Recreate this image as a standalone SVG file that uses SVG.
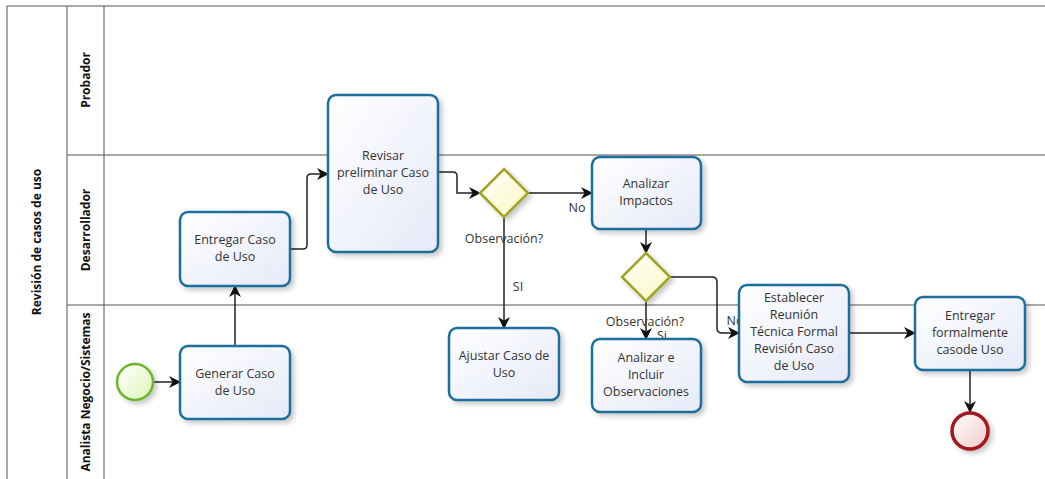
<svg xmlns="http://www.w3.org/2000/svg" width="1045" height="479" viewBox="0 0 1045 479">
<defs>
<linearGradient id="gTask" x1="0" y1="0" x2="1" y2="1"><stop offset="0" stop-color="#ffffff"/><stop offset="1" stop-color="#e6eaf8"/></linearGradient>
<linearGradient id="gGate" x1="0" y1="0" x2="1" y2="1"><stop offset="0" stop-color="#ffffff"/><stop offset="1" stop-color="#f8f8c0"/></linearGradient>
<linearGradient id="gStart" x1="0" y1="0" x2="1" y2="1"><stop offset="0" stop-color="#ffffff"/><stop offset="1" stop-color="#dff5b8"/></linearGradient>
<linearGradient id="gEnd" x1="0" y1="0" x2="1" y2="1"><stop offset="0" stop-color="#ffffff"/><stop offset="1" stop-color="#f2c8cc"/></linearGradient>
<filter id="sh" x="-20%" y="-20%" width="150%" height="150%"><feDropShadow dx="3" dy="3" stdDeviation="2.5" flood-color="#000" flood-opacity="0.22"/></filter>
<marker id="arr" viewBox="0 0 12 12" refX="11" refY="6" markerWidth="12" markerHeight="12" markerUnits="userSpaceOnUse" orient="auto"><path d="M0,0 L12,6 L0,12 L3.5,6 z" fill="#111"/></marker>
</defs>
<style>
.lane{fill:none;stroke:#555;stroke-width:1}
.lbl{font-family:"Open Sans","Noto Sans","DejaVu Sans",sans-serif;font-size:12px;font-weight:bold;fill:#111;text-anchor:middle}
.task rect{fill:url(#gTask);stroke:#1f6e9c;stroke-width:2.5;filter:url(#sh)}
.task text,.t{font-family:"Open Sans","Noto Sans","DejaVu Sans",sans-serif;font-size:12.5px;fill:#333;text-anchor:middle}
.gate polygon{fill:url(#gGate);stroke:#a3a325;stroke-width:2.5;filter:url(#sh)}
.con path{fill:none;stroke:#222;stroke-width:1.5;marker-end:url(#arr)}
</style>
<rect width="1045" height="479" fill="#ffffff"/>
<g id="pool">
<path class="lane" d="M7,479 V6 H1045"/>
<path class="lane" d="M67,6 V479"/>
<path class="lane" d="M104,6 V479"/>
<path class="lane" d="M67,155 H1045"/>
<path class="lane" d="M67,305 H1045"/>
<text class="lbl" transform="translate(41,242) rotate(-90)">Revisión de casos de uso</text>
<text class="lbl" transform="translate(90,80) rotate(-90)">Probador</text>
<text class="lbl" transform="translate(90,230) rotate(-90)">Desarrollador</text>
<text class="lbl" transform="translate(90,392) rotate(-90)">Analista Negocio/Sistemas</text>
</g>
<g class="con" id="connectors">
<path d="M153,382 H180"/>
<path d="M235,346 V286"/>
<path d="M290,249 H303 Q307,249 307,245 V178 Q307,174 311,174 H328"/>
<path d="M438,172 H453 Q457,172 457,176 V193 H480"/>
<path d="M528,193 H592"/>
<path d="M504,217 V328"/>
<path d="M646,229 V253"/>
<path d="M646,301 V339"/>
<path d="M670,277 H712 Q717,277 717,282 V328 Q717,333 722,333 H739"/>
<path d="M849,333 H915"/>
<path d="M970,370 V412"/>
</g>
<g id="labels">
<text class="t" x="577" y="212">No</text>
<text class="t" x="504" y="243">Observación?</text>
<text class="t" x="518" y="291">SI</text>
<text class="t" x="645" y="326">Observación?</text>
<text class="t" x="662" y="340">Si</text>
<text class="t" x="735" y="325">No</text>
</g>
<g id="start"><circle cx="135" cy="382" r="18" fill="url(#gStart)" stroke="#6cb52d" stroke-width="2.5" filter="url(#sh)"/></g>
<g id="end"><circle cx="970" cy="431" r="18" fill="url(#gEnd)" stroke="#a3181c" stroke-width="3.5" filter="url(#sh)"/></g>
<g class="task" id="generar"><rect x="180" y="346" width="110" height="73" rx="8"/><text x="235" y="378">Generar Caso</text><text x="235" y="395">de Uso</text></g>
<g class="task" id="entregar"><rect x="180" y="212" width="110" height="74" rx="8"/><text x="235" y="244">Entregar Caso</text><text x="235" y="261">de Uso</text></g>
<g class="task" id="revisar"><rect x="328" y="95" width="110" height="157" rx="8"/><text x="383" y="160">Revisar</text><text x="383" y="177">preliminar Caso</text><text x="383" y="194">de Uso</text></g>
<g class="gate" id="gw1"><polygon points="504,169 528,193 504,217 480,193"/></g>
<g class="task" id="impactos"><rect x="592" y="157" width="109" height="72" rx="8"/><text x="646" y="188">Analizar</text><text x="646" y="205">Impactos</text></g>
<g class="gate" id="gw2"><polygon points="646,253 670,277 646,301 622,277"/></g>
<g class="task" id="ajustar"><rect x="449" y="328" width="110" height="72" rx="8"/><text x="504" y="360">Ajustar Caso de</text><text x="504" y="377">Uso</text></g>
<g class="task" id="incluir"><rect x="592" y="339" width="109" height="73" rx="8"/><text x="646" y="362">Analizar e</text><text x="646" y="379">Incluir</text><text x="646" y="396">Observaciones</text></g>
<g class="task" id="reunion"><rect x="739" y="285" width="110" height="97" rx="8"/><text x="794" y="302">Establecer</text><text x="794" y="319">Reunión</text><text x="794" y="336">Técnica Formal</text><text x="794" y="353">Revisión Caso</text><text x="794" y="370">de Uso</text></g>
<g class="task" id="formal"><rect x="915" y="297" width="110" height="73" rx="8"/><text x="970" y="320">Entregar</text><text x="970" y="337">formalmente</text><text x="970" y="354">casode Uso</text></g>
</svg>
